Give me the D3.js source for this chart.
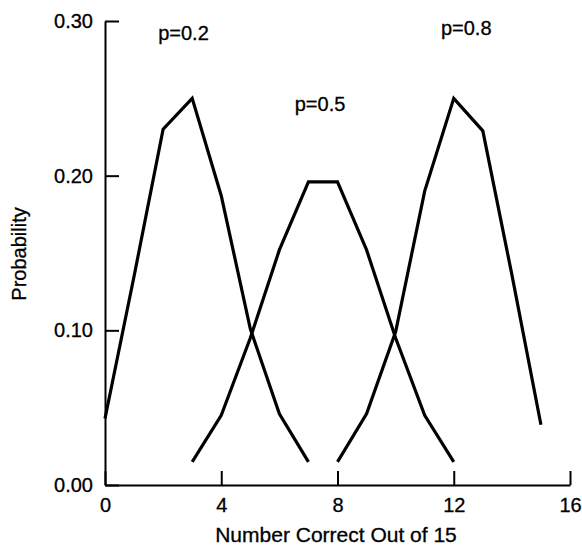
<!DOCTYPE html>
<html>
<head>
<meta charset="utf-8">
<script src="https://cdn.jsdelivr.net/npm/d3@7"></script>
<style>
  body { margin: 0; background: #fff; }
  svg text { font-family: "Liberation Sans", Arial, sans-serif; fill: #000; stroke: #000; stroke-width: 0.3px; }
</style>
</head>
<body>
<div id="chart"></div>
<script>
// binomial curves, n = 15
var x02 = [0, 1, 2, 3, 4, 5, 6, 7];
var p02 = [0.043, 0.135, 0.230, 0.250, 0.187, 0.101, 0.046, 0.015];

var x05 = [3, 4, 5, 6, 7, 8, 9, 10, 11, 12];
var p05 = [0.015, 0.045, 0.095, 0.152, 0.196, 0.196, 0.152, 0.095, 0.045, 0.015];

var x08 = [8, 9, 10, 11, 12, 13, 14, 15];
var p08 = [0.015, 0.046, 0.099, 0.190, 0.250, 0.229, 0.136, 0.039];

var xTicks = [0, 4, 8, 12, 16];
var yTicks = [0, 0.1, 0.2, 0.3];

var labels = ["p=0.2", "p=0.5", "p=0.8"];

var w = 582, h = 546;

var x = d3.scaleLinear().domain([0, 16]).range([105, 570]);
var y = d3.scaleLinear().domain([0, 0.3]).range([485, 21]);

var svg = d3.select("#chart")
  .append("svg")
    .attr("width", w)
    .attr("height", h);

// axes
var gx = svg.append("g")
    .attr("transform", "translate(0," + y(0) + ")")
    .call(d3.axisBottom(x).tickValues(xTicks).tickFormat(d3.format("d"))
      .tickSize(-14).tickSizeOuter(0).tickPadding(13));

var gy = svg.append("g")
    .attr("transform", "translate(" + x(0) + ",0)")
    .call(d3.axisLeft(y).tickValues(yTicks).tickFormat(d3.format(".2f"))
      .tickSize(-14).tickSizeOuter(0).tickPadding(12));

svg.selectAll(".domain, .tick line")
    .attr("stroke", "#000")
    .attr("stroke-width", 2);
svg.selectAll(".tick text")
    .style("font-size", "20px");

// curves
var line = d3.line()
    .x(function(d) { return x(d[0]); })
    .y(function(d) { return y(d[1]); });

var series = [d3.zip(x02, p02), d3.zip(x05, p05), d3.zip(x08, p08)];

svg.selectAll(".curve")
  .data(series)
  .enter().append("path")
    .attr("class", "curve")
    .attr("d", line)
    .attr("fill", "none")
    .attr("stroke", "#000")
    .attr("stroke-width", 3.2)
    .attr("stroke-linejoin", "miter");

// curve labels
var labelPos = [[2.7, 0.2875], [7.4, 0.2417], [12.43, 0.2912]];
svg.selectAll(".plabel")
  .data(labels)
  .enter().append("text")
    .attr("class", "plabel")
    .attr("x", function(d, i) { return x(labelPos[i][0]); })
    .attr("y", function(d, i) { return y(labelPos[i][1]); })
    .attr("text-anchor", "middle")
    .style("font-size", "20px")
    .text(function(d) { return d; });

// axis titles
svg.append("text")
    .attr("x", 336)
    .attr("y", 542)
    .attr("text-anchor", "middle")
    .style("font-size", "21px")
    .text("Number Correct Out of 15");

svg.append("text")
    .attr("transform", "translate(26,254) rotate(-90)")
    .attr("text-anchor", "middle")
    .style("font-size", "20px")
    .text("Probability");
</script>
</body>
</html>
